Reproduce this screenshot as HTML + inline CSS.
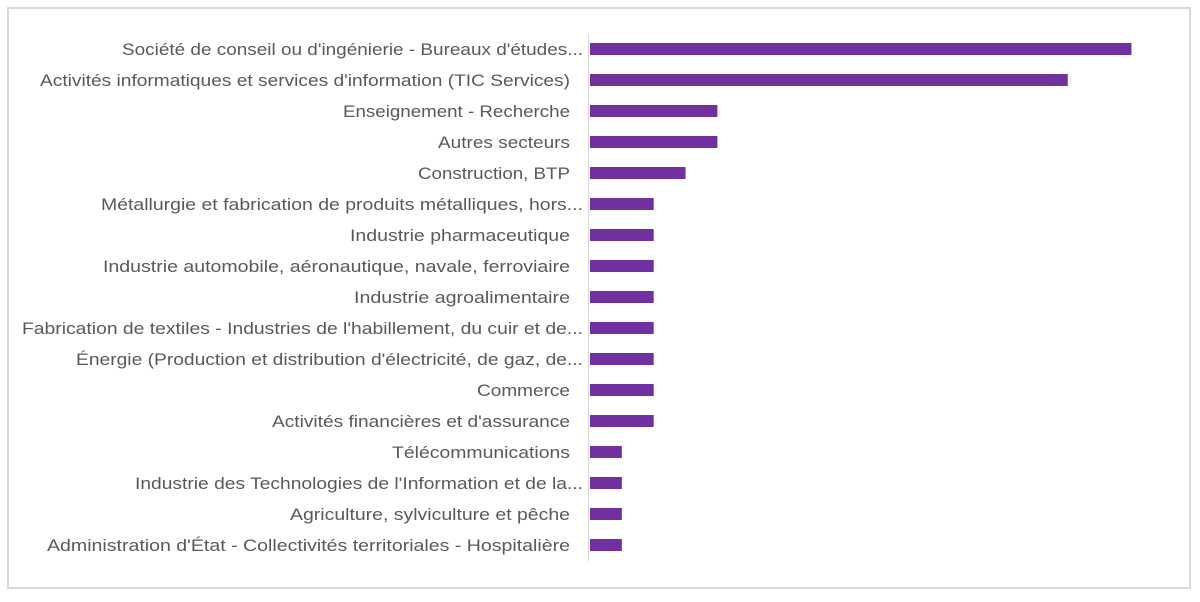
<!DOCTYPE html>
<html><head><meta charset="utf-8"><style>
html,body{margin:0;padding:0;background:#fff;}
svg{display:block;}
text{font-family:"Liberation Sans",sans-serif;font-size:17px;fill:#595959;}
</style></head><body>
<svg id="chart" width="1200" height="602" viewBox="0 0 1200 602">
<rect x="8" y="8" width="1182" height="580" fill="#fff" stroke="#d9d9d9" stroke-width="2"/>
<line x1="588.5" y1="34" x2="588.5" y2="561" stroke="#d9d9d9" stroke-width="1"/>
<g id="bars"></g><g id="labels"></g>
</svg>
<script>
const categories=["Société de conseil ou d'ingénierie - Bureaux d'études...","Activités informatiques et services d'information (TIC Services)","Enseignement - Recherche","Autres secteurs","Construction, BTP","Métallurgie et fabrication de produits métalliques, hors...","Industrie pharmaceutique","Industrie automobile, aéronautique, navale, ferroviaire","Industrie agroalimentaire","Fabrication de textiles - Industries de l'habillement, du cuir et de...","Énergie (Production et distribution d'électricité, de gaz, de...","Commerce","Activités financières et d'assurance","Télécommunications","Industrie des Technologies de l'Information et de la...","Agriculture, sylviculture et pêche","Administration d'État - Collectivités territoriales - Hospitalière"];
const values=[17,15,4,4,3,2,2,2,2,2,2,2,2,1,1,1,1];
const labelStarts=[122,40,343,438,418,101,350,103,354,22,76,477,272,392,135,290,47];
const labelEnds=[583,570,570,570,570,583,570,570,570,583,583,570,570,570,583,570,570];
const ns="http://www.w3.org/2000/svg";
const x0=590, unit=31.85, y0=49, step=31, bh=12;
function xScale(v){return x0+v*unit;}
function yScale(i){return y0+i*step;}
const gb=document.getElementById('bars'), gl=document.getElementById('labels');
categories.forEach((c,i)=>{
  const r=document.createElementNS(ns,'rect');
  
  
  r.setAttribute('x',x0);r.setAttribute('y',yScale(i)-bh/2);
  r.setAttribute('width',xScale(values[i])-x0);r.setAttribute('height',bh);
  r.setAttribute('fill','#7030a0');
  gb.appendChild(r);
  const t=document.createElementNS(ns,'text');
  
  
  t.setAttribute('x',labelStarts[i]);t.setAttribute('y',yScale(i)+6);
  t.setAttribute('textLength',labelEnds[i]-labelStarts[i]);
  t.setAttribute('lengthAdjust','spacingAndGlyphs');
  t.textContent=c;
  gl.appendChild(t);
});
</script>
</body></html>
